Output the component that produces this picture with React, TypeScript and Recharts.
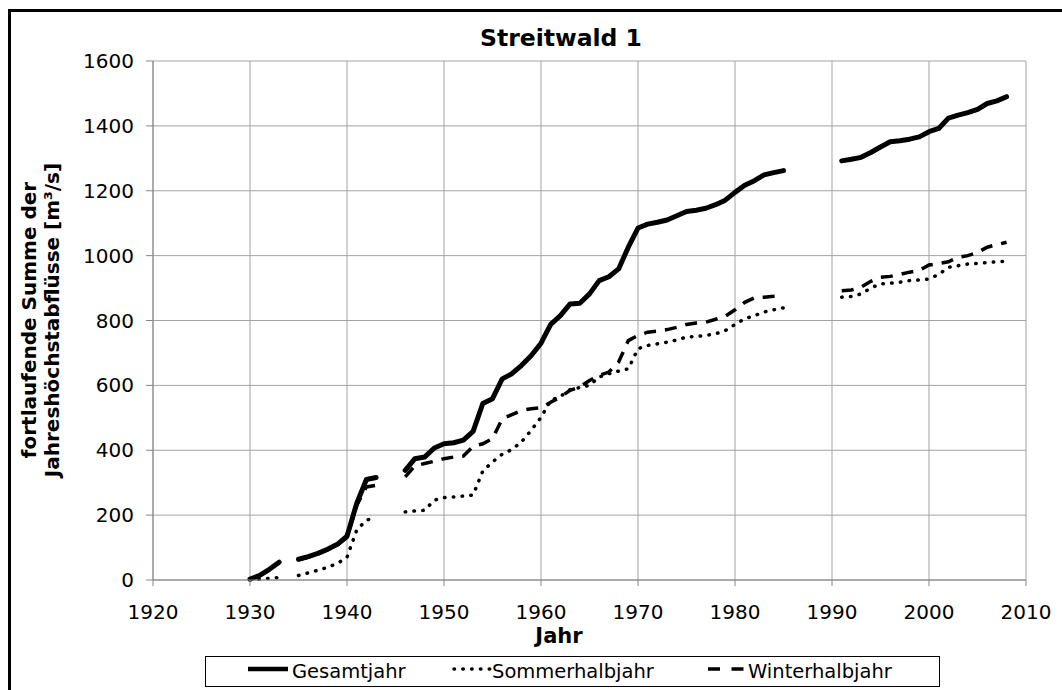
import { LineChart, Line, XAxis, YAxis, CartesianGrid } from 'recharts'

const FONT = '"DejaVu Sans", Verdana, sans-serif'

// Jahre (Lücken: 1934, 1944-45, 1986-90)
const years = [
  1930, 1931, 1932, 1933, 1934, 1935, 1936, 1937, 1938, 1939,
  1940, 1941, 1942, 1943, 1944, 1945, 1946, 1947, 1948, 1949,
  1950, 1951, 1952, 1953, 1954, 1955, 1956, 1957, 1958, 1959,
  1960, 1961, 1962, 1963, 1964, 1965, 1966, 1967, 1968, 1969,
  1970, 1971, 1972, 1973, 1974, 1975, 1976, 1977, 1978, 1979,
  1980, 1981, 1982, 1983, 1984, 1985, 1986, 1987, 1988, 1989,
  1990, 1991, 1992, 1993, 1994, 1995, 1996, 1997, 1998, 1999,
  2000, 2001, 2002, 2003, 2004, 2005, 2006, 2007, 2008,
]

const gesamt = [
  3, 14, 33, 55, null, 64, 72, 82, 95, 110,
  135, 236, 310, 316, null, null, 338, 374, 379, 407,
  420, 423, 431, 458, 544, 559, 620, 636, 662, 692,
  730, 788, 815, 851, 853, 882, 923, 935, 959, 1026,
  1085, 1097, 1103, 1110, 1123, 1136, 1140, 1146, 1157, 1171,
  1195, 1217, 1231, 1249, 1256, 1262, null, null, null, null,
  null, 1292, 1297, 1303, 1318, 1335, 1351, 1354, 1359, 1366,
  1382, 1392, 1424, 1433, 1441, 1451, 1469, 1477, 1490,
]

const sommer = [
  0, 3, 5, 8, null, 14, 22, 30, 39, 51,
  70, 154, 185, 190, null, null, 210, 213, 215, 246,
  254, 256, 259, 262, 336, 364, 388, 402, 426, 462,
  501, 554, 566, 587, 593, 600, 626, 636, 644, 651,
  713, 723, 728, 733, 740, 749, 751, 754, 759, 769,
  788, 805, 815, 826, 833, 839, null, null, null, null,
  null, 872, 874, 882, 900, 913, 915, 918, 923, 925,
  928, 942, 964, 969, 974, 976, 979, 981, 983,
]

const winter = [
  3, 13, 32, 54, null, 62, 70, 80, 93, 108,
  132, 230, 287, 292, null, null, 318, 352, 359, 366,
  374, 379, 382, 412, 420, 436, 497, 510, 523, 528,
  531, 548, 564, 585, 595, 615, 631, 641, 672, 738,
  754, 764, 767, 772, 779, 788, 792, 795, 804, 813,
  833, 856, 870, 872, 875, 879, null, null, null, null,
  null, 892, 894, 903, 921, 933, 936, 942, 949, 954,
  971, 976, 981, 995, 1000, 1010, 1026, 1034, 1041,
]

const xTicks = [1920, 1930, 1940, 1950, 1960, 1970, 1980, 1990, 2000, 2010]
const yTicks = [0, 200, 400, 600, 800, 1000, 1200, 1400, 1600]

const seriesNames = ['Gesamtjahr', 'Sommerhalbjahr', 'Winterhalbjahr']

const data = years.map((year, i) => ({
  year,
  gesamt: gesamt[i],
  sommer: sommer[i],
  winter: winter[i],
}))

const tickStyle = { fill: '#000', fontSize: 20, fontFamily: FONT }

function Sample({ kind }: { kind: number }) {
  if (kind === 0) {
    return (
      <svg width={44} height={29} style={{ display: 'block' }}>
        <line x1={0} y1={12} x2={40} y2={12} stroke="#000" strokeWidth={4.5} />
      </svg>
    )
  }
  if (kind === 1) {
    return (
      <svg width={42} height={29} style={{ display: 'block' }}>
        <line x1={2} y1={12} x2={40} y2={12} stroke="#000" strokeWidth={3.5}
          strokeLinecap="round" strokeDasharray="0.5 8.3" />
      </svg>
    )
  }
  return (
    <svg width={40} height={29} style={{ display: 'block' }}>
      <line x1={0} y1={12} x2={36} y2={12} stroke="#000" strokeWidth={3.5}
        strokeDasharray="12 11.5" />
    </svg>
  )
}

const legendLeft = [42, 246, 502]

export default function App() {
  return (
    <div style={{
      position: 'fixed', left: 0, top: 0, width: 1062, height: 690,
      background: '#fff', overflow: 'hidden', fontFamily: FONT, color: '#000',
    }}>
      {/* Rahmen */}
      <div style={{
        position: 'absolute', left: 8, top: 9, width: 1200, height: 800,
        borderTop: '3px solid #000', borderLeft: '3px solid #000',
      }} />

      {/* Titel */}
      <div style={{
        position: 'absolute', left: 561, top: 26, transform: 'translateX(-50%)',
        fontSize: 23.5, lineHeight: '24px', fontWeight: 'bold', whiteSpace: 'nowrap',
      }}>
        Streitwald 1
      </div>

      {/* Y-Achsentitel */}
      <div style={{
        position: 'absolute', left: 41.3 - 200, top: 320 - 23, width: 400, height: 46,
        transform: 'rotate(-90deg)', transformOrigin: 'center',
        textAlign: 'center', fontSize: 20, lineHeight: '23px', fontWeight: 'bold',
      }}>
        fortlaufende Summe der<br />Jahreshöchstabflüsse [m³/s]
      </div>

      <div style={{ position: 'absolute', left: 0, top: 0 }}>
        <LineChart
          width={1062}
          height={640}
          data={data}
          margin={{ top: 61, right: 36, left: 73, bottom: 20 }}
        >
          <CartesianGrid stroke="#a3a3a3" strokeWidth={1} />
          <XAxis
            dataKey="year"
            type="number"
            domain={[1920, 2010]}
            ticks={xTicks}
            interval={0}
            height={40}
            tickSize={6}
            tickMargin={19}
            stroke="#868686"
            tick={tickStyle}
          />
          <YAxis
            type="number"
            domain={[0, 1600]}
            ticks={yTicks}
            interval={0}
            width={80}
            tickSize={7}
            tickMargin={12}
            stroke="#868686"
            tick={tickStyle}
          />
          <Line
            type="linear"
            dataKey="sommer"
            name={seriesNames[1]}
            stroke="#000"
            strokeWidth={3.5}
            strokeLinecap="round"
            strokeDasharray="0.5 8.3"
            dot={false}
            activeDot={false}
            connectNulls={false}
            isAnimationActive={false}
          />
          <Line
            type="linear"
            dataKey="winter"
            name={seriesNames[2]}
            stroke="#000"
            strokeWidth={3.5}
            strokeDasharray="12 9"
            dot={false}
            activeDot={false}
            connectNulls={false}
            isAnimationActive={false}
          />
          <Line
            type="linear"
            dataKey="gesamt"
            name={seriesNames[0]}
            stroke="#000"
            strokeWidth={5}
            strokeLinejoin="round"
            strokeLinecap="round"
            dot={false}
            activeDot={false}
            connectNulls={false}
            isAnimationActive={false}
          />
        </LineChart>
      </div>

      {/* X-Achsentitel */}
      <div style={{
        position: 'absolute', left: 559, top: 626, transform: 'translateX(-50%)',
        fontSize: 21, lineHeight: '21px', fontWeight: 'bold',
      }}>
        Jahr
      </div>

      {/* Legende */}
      <div style={{
        position: 'absolute', left: 205, top: 656, width: 735, height: 31,
        boxSizing: 'border-box', border: '1px solid #000', background: '#fff',
      }}>
        {seriesNames.map((name, i) => (
          <div key={name} style={{
            position: 'absolute', left: legendLeft[i], top: 0, height: 29,
            display: 'flex', alignItems: 'center',
          }}>
            <div style={{ marginRight: i === 1 ? -2 : 0 }}>
              <Sample kind={i} />
            </div>
            <span style={{ fontSize: 19.5, lineHeight: '29px', whiteSpace: 'nowrap' }}>{name}</span>
          </div>
        ))}
      </div>
    </div>
  )
}
